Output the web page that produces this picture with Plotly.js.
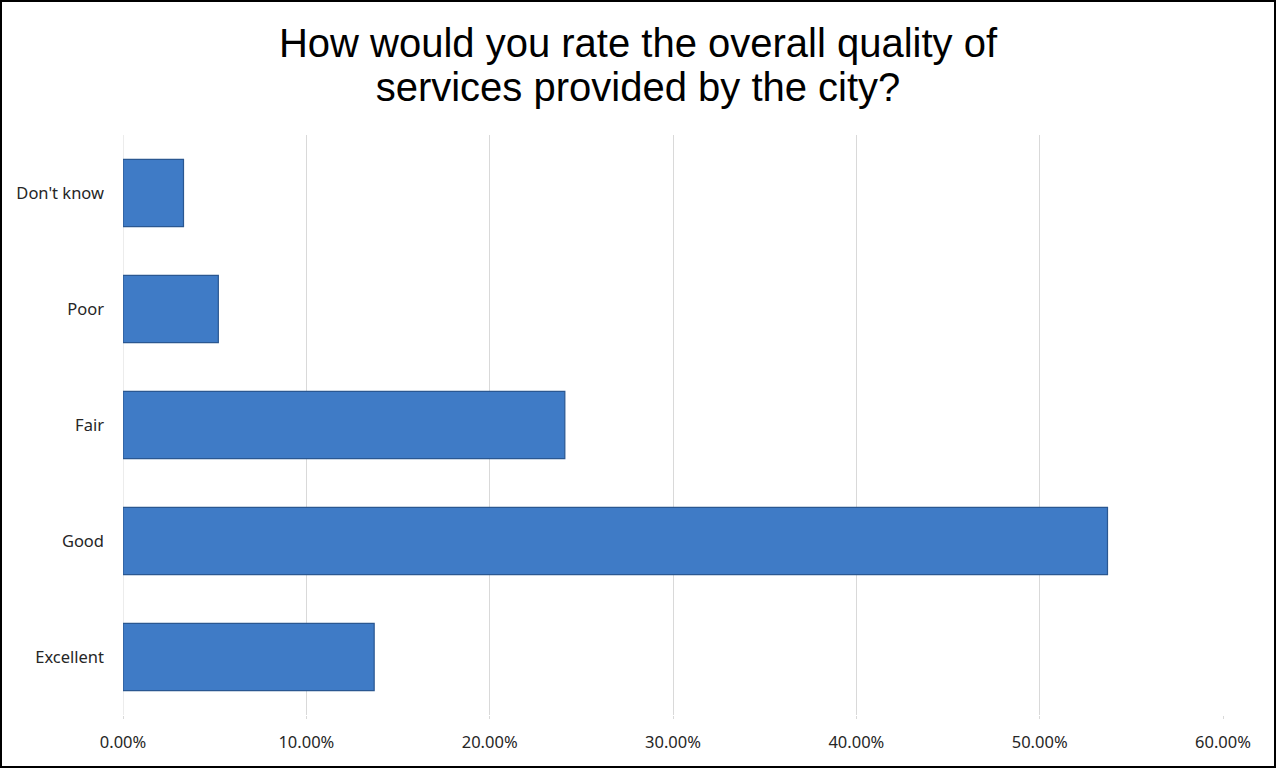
<!DOCTYPE html>
<html>
<head>
<meta charset="utf-8">
<script src="https://cdn.plot.ly/plotly-3.0.1.min.js"></script>
<style>
html, body { margin: 0; padding: 0; background: #fff; }
#chart { width: 1272px; height: 764px; border: 2px solid #000; }
</style>
</head>
<body>
<div id="chart"></div>
<script>
const categories = ["Excellent", "Good", "Fair", "Poor", "Don't know"];
const values = [0.137, 0.537, 0.241, 0.052, 0.033];
const tickValues = [0, 0.1, 0.2, 0.3, 0.4, 0.5, 0.6];
const tickLabels = ["0.00%", "10.00%", "20.00%", "30.00%", "40.00%", "50.00%", "60.00%"];

const trace = {
  type: 'bar',
  orientation: 'h',
  x: values,
  y: categories,
  width: 0.58,
  marker: { color: '#3f7bc6', line: { color: '#2a5791', width: 1.2 } },
  hoverinfo: 'x+y'
};

const layout = {
  width: 1272,
  height: 764,
  paper_bgcolor: '#fff',
  plot_bgcolor: '#fff',
  margin: { l: 121, r: 51, t: 133, b: 51 },
  title: {
    text: '<span style="font-size:40px">How would you rate the overall quality of</span><br><span style="font-size:40px">services provided by the city?</span>',
    font: { family: 'Liberation Sans, Arial, sans-serif', size: 34, color: '#000' },
    x: 0.5, xanchor: 'center',
    yref: 'container', y: 1 - 55 / 764, yanchor: 'middle'
  },
  xaxis: {
    range: [0, 0.6],
    tickvals: tickValues,
    ticktext: tickLabels,
    showgrid: true,
    gridcolor: '#d9d9d9',
    gridwidth: 1,
    zeroline: false,
    showline: false,
    ticks: 'outside', ticklen: 3, tickcolor: '#d9d9d9',
    ticklabelstandoff: 9,
    tickfont: { family: 'Noto Sans, sans-serif', size: 16.5, color: '#262626' },
    fixedrange: true
  },
  yaxis: {
    type: 'category',
    categoryorder: 'array',
    categoryarray: categories,
    showgrid: false,
    zeroline: false,
    showline: false,
    ticks: '',
    ticklabelstandoff: 18,
    tickfont: { family: 'Noto Sans, sans-serif', size: 16.5, color: '#262626' },
    fixedrange: true
  },
  shapes: [{
    type: 'line', xref: 'x', yref: 'paper', x0: 0, x1: 0, y0: 0, y1: 1,
    line: { color: '#d9d9d9', width: 1 }, layer: 'below'
  }],
  showlegend: false
};

Plotly.newPlot('chart', [trace], layout, { displayModeBar: false, staticPlot: true });
</script>
</body>
</html>
